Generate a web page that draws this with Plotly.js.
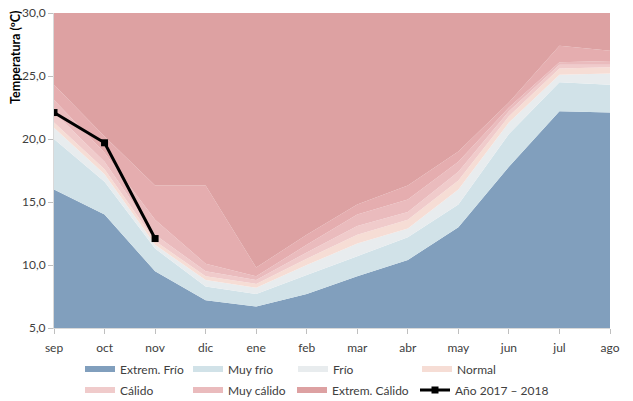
<!DOCTYPE html>
<html>
<head>
<meta charset="utf-8">
<script src="https://cdn.plot.ly/plotly-3.0.1.min.js"></script>
<style>
html,body{margin:0;padding:0;background:#fff;}
#chart{width:633px;height:401px;}
</style>
</head>
<body>
<div id="chart"></div>
<script>
// Month categories (hydrological year)
const meses = ["sep","oct","nov","dic","ene","feb","mar","abr","may","jun","jul","ago"];
const mesIdx = [0,1,2,3,4,5,6,7,8,9,10,11];

// Upper limits of each temperature class (ºC)
const limExtFrio   = [16.0, 14.0,  9.5,  7.2,  6.7,  7.7,  9.1, 10.4, 13.0, 17.8, 22.2, 22.1];
const limMuyFrio   = [20.0, 16.6, 11.3,  8.3,  7.7,  9.2, 10.7, 12.2, 14.8, 20.4, 24.5, 24.3];
const limFrio      = [20.9, 17.2, 11.6,  8.8,  8.2, 10.0, 11.7, 12.9, 16.0, 21.3, 25.1, 25.2];
const limNormal    = [21.3, 17.6, 11.9,  9.1,  8.5, 10.5, 12.4, 13.6, 16.7, 21.8, 25.6, 25.7];
const limCalido    = [22.1, 18.2, 12.4,  9.5,  8.8, 11.0, 13.1, 14.2, 17.4, 22.2, 25.9, 25.9];
const limMuyCalido = [23.1, 18.9, 13.6, 10.1,  9.1, 11.6, 14.0, 15.2, 18.2, 22.5, 26.1, 26.2];
const limMaximo    = [24.3, 20.2, 16.3, 16.3,  9.8, 12.4, 14.8, 16.3, 19.0, 22.9, 27.4, 27.0];
const limTecho     = [30, 30, 30, 30, 30, 30, 30, 30, 30, 30, 30, 30];

// Observed year 2017 - 2018
const anio = [22.1, 19.7, 12.1, null, null, null, null, null, null, null, null, null];

// Y tick values
const yTicks = [5, 10, 15, 20, 25, 30];

const FONT = "Lato, 'Open Sans', sans-serif";

function area(y, fill, color, name, leg) {
  const t = {x: mesIdx, y: y, type: 'scatter', mode: 'none', fill: fill,
    fillcolor: color, name: name, hoverinfo: 'skip'};
  if (leg) { t.legend = leg; t.showlegend = true; } else { t.showlegend = false; }
  return t;
}

const traces = [
  area(limExtFrio,   'tozeroy', '#819fbd', 'Extrem. Frío', 'legend'),
  area(limMuyFrio,   'tonexty', '#d1e2e8', 'Muy frío', 'legend2'),
  area(limFrio,      'tonexty', '#e8ecee', 'Frío', 'legend3'),
  area(limNormal,    'tonexty', '#f6ddd5', 'Normal', 'legend4'),
  area(limCalido,    'tonexty', '#f0cbcb', 'Cálido', 'legend5'),
  area(limMuyCalido, 'tonexty', '#eabbbd', 'Muy cálido', 'legend6'),
  area(limMaximo,    'tonexty', '#e5adaf', 'máximo', null),
  area(limTecho,     'tonexty', '#dda1a2', 'Extrem. Cálido', 'legend7'),
  {x: mesIdx, y: anio, type: 'scatter', mode: 'lines+markers', name: 'Año 2017 \u2013 2018',
   line: {color: '#000000', width: 3}, marker: {symbol: 'square', size: 7, color: '#000000'},
   legend: 'legend8', hoverinfo: 'skip'}
];

const FW = 633, FH = 401;
function lg(px, py) {
  return {xref: 'container', yref: 'container', x: px / FW, y: 1 - py / FH,
    xanchor: 'left', yanchor: 'middle',
    orientation: 'h', bgcolor: 'rgba(0,0,0,0)', borderwidth: 0,
    font: {family: FONT, size: 12, color: '#404040'}, itemwidth: 30, tracegroupgap: 0};
}

const layout = {
  width: 633, height: 401,
  margin: {l: 54, r: 23, t: 13, b: 73, pad: 0, autoexpand: false},
  paper_bgcolor: '#ffffff', plot_bgcolor: '#ffffff',
  separators: ',.',
  font: {family: FONT, size: 12, color: '#404040'},
  xaxis: {
    range: [0, 11], tickvals: mesIdx, ticktext: meses,
    showgrid: false, zeroline: false, showline: true, linecolor: '#d9d9d9', linewidth: 1,
    ticks: 'outside', ticklen: 5, tickcolor: '#bfbfbf', ticklabelstandoff: 4,
    tickfont: {family: FONT, size: 12, color: '#404040'},
    fixedrange: true
  },
  yaxis: {
    range: [5, 30], tickvals: yTicks, tickformat: '.1f',
    showgrid: false, zeroline: false, showline: true, linecolor: '#d9d9d9', linewidth: 1,
    ticks: 'outside', ticklen: 5, tickcolor: '#bfbfbf', tickfont: {family: FONT, size: 12, color: '#404040'},
    fixedrange: true
  },
  annotations: [{
    text: '<b>Temperatura (ºC)</b>', textangle: -90, xref: 'paper', yref: 'paper',
    x: (16 - 54) / 556, y: (328 - 57) / 315, xanchor: 'center', yanchor: 'middle', showarrow: false,
    font: {family: FONT, size: 12.5, color: '#000000'}
  }],
  legend:  lg(80, 369),
  legend2: lg(188, 369),
  legend3: lg(293, 369),
  legend4: lg(417, 369),
  legend5: lg(80, 390),
  legend6: lg(188, 390),
  legend7: lg(292, 390),
  legend8: lg(415, 390),
  showlegend: true
};

Plotly.newPlot('chart', traces, layout, {displayModeBar: false, staticPlot: true});
</script>
</body>
</html>
